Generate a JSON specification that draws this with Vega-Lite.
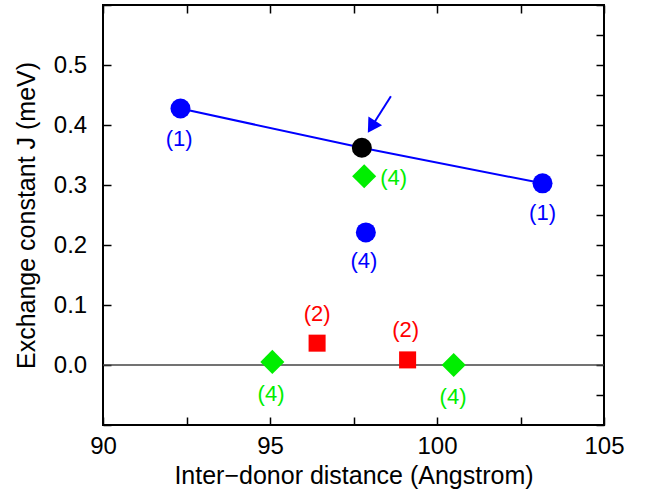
{
  "$schema": "https://vega.github.io/schema/vega-lite/v6.json",
  "autosize": {"type": "none"},
  "width": 501,
  "height": 420,
  "padding": {"left": 103, "top": 5, "right": 47, "bottom": 68},
  "background": "white",
  "config": {
    "font": "Liberation Sans",
    "view": {"stroke": "black", "strokeWidth": 2},
    "axis": {
      "grid": false,
      "domain": false,
      "tickColor": "black",
      "tickWidth": 1.5,
      "tickSize": -8,
      "labelColor": "black",
      "titleColor": "black",
      "labelFont": "Liberation Sans",
      "titleFont": "Liberation Sans",
      "labelFontSize": 24,
      "titleFontSize": 25,
      "titleFontWeight": "normal"
    }
  },
  "datasets": {
    "pts": [
      {"x": 92.32, "J": 0.4275, "set": "A"},
      {"x": 103.16, "J": 0.3028, "set": "A"},
      {"x": 97.87, "J": 0.221, "set": "A"},
      {"x": 96.41, "J": 0.0364, "set": "B"},
      {"x": 99.12, "J": 0.0085, "set": "B"},
      {"x": 97.82, "J": 0.3145, "set": "C"},
      {"x": 95.07, "J": 0.0052, "set": "C"},
      {"x": 100.5, "J": 0.0, "set": "C"},
      {"x": 97.75, "J": 0.362, "set": "D"}
    ],
    "fit": [
      {"x": 92.32, "J": 0.4275},
      {"x": 97.75, "J": 0.362},
      {"x": 103.16, "J": 0.3028}
    ],
    "labels": [
      {"x": 92.28, "J": 0.376, "text": "(1)", "set": "A"},
      {"x": 103.16, "J": 0.2534, "text": "(1)", "set": "A"},
      {"x": 97.81, "J": 0.1726, "text": "(4)", "set": "A"},
      {"x": 98.7, "J": 0.311, "text": "(4)", "set": "C"},
      {"x": 96.41, "J": 0.0853, "text": "(2)", "set": "B"},
      {"x": 99.06, "J": 0.0586, "text": "(2)", "set": "B"},
      {"x": 95.03, "J": -0.048, "text": "(4)", "set": "C"},
      {"x": 100.48, "J": -0.053, "text": "(4)", "set": "C"}
    ],
    "arrow": [
      {"x": 98.62, "J": 0.448, "x2": 98.04, "J2": 0.397}
    ]
  },
  "layer": [
    {
      "layer": [
        {
          "data": {"values": [{}]},
          "mark": {"type": "rule", "color": "#444444", "strokeWidth": 1.5},
          "encoding": {
            "y": {"datum": 0, "type": "quantitative", "scale": {"domain": [-0.1, 0.6], "nice": false, "zero": false}}
          }
        },
        {
          "data": {"name": "fit"},
          "mark": {"type": "line", "color": "#0000ff", "strokeWidth": 2},
          "encoding": {
            "x": {"field": "x", "type": "quantitative"},
            "y": {"field": "J", "type": "quantitative"}
          }
        },
        {
          "data": {"name": "arrow"},
          "mark": {"type": "rule", "color": "#0000ff", "strokeWidth": 2},
          "encoding": {
            "x": {"field": "x", "type": "quantitative"},
            "y": {"field": "J", "type": "quantitative"},
            "x2": {"field": "x2"},
            "y2": {"field": "J2"}
          }
        },
        {
          "data": {"name": "arrow"},
          "mark": {"type": "point", "shape": "triangle-up", "filled": true, "color": "#0000ff", "size": 260, "angle": 212, "opacity": 1, "strokeWidth": 0},
          "encoding": {
            "x": {"field": "x2", "type": "quantitative"},
            "y": {"field": "J2", "type": "quantitative"}
          }
        },
        {
          "data": {"name": "pts"},
          "mark": {"type": "point", "filled": true, "opacity": 1, "strokeWidth": 0},
          "encoding": {
            "x": {
              "field": "x", "type": "quantitative",
              "scale": {"domain": [90, 105], "nice": false, "zero": false},
              "axis": {
                "orient": "bottom",
                "title": "Inter\u2212donor distance (Angstrom)",
                "values": [90, 92.5, 95, 97.5, 100, 102.5, 105],
                "labelExpr": "datum.value % 5 == 0 ? datum.label : ''",
                "labelBaseline": "alphabetic",
                "labelPadding": 36,
                "labelFlush": false,
                "labelOverlap": false,
                "titleY": 58,
                "titleBaseline": "alphabetic"
              }
            },
            "y": {
              "field": "J", "type": "quantitative",
              "scale": {"domain": [-0.1, 0.6], "nice": false, "zero": false},
              "axis": {
                "orient": "left",
                "title": "Exchange constant J (meV)",
                "values": [-0.1, -0.05, 0, 0.05, 0.1, 0.15, 0.2, 0.25, 0.3, 0.35, 0.4, 0.45, 0.5, 0.55, 0.6],
                "labelExpr": "(abs(round(datum.value * 20)) % 2 == 0 && datum.value > -0.05 && datum.value < 0.55) ? format(datum.value, '.1f') : ''",
                "labelPadding": 24.3,
                "labelFlush": false,
                "labelOverlap": false,
                "titleX": -68.5,
                "titleBaseline": "alphabetic"
              }
            },
            "color": {
              "field": "set", "type": "nominal", "legend": null,
              "scale": {"domain": ["A", "B", "C", "D"], "range": ["#0000ff", "#ff0000", "#00ee00", "#000000"]}
            },
            "shape": {
              "field": "set", "type": "nominal", "legend": null,
              "scale": {"domain": ["A", "B", "C", "D"], "range": ["circle", "square", "diamond", "circle"]}
            },
            "size": {
              "field": "set", "type": "nominal", "legend": null,
              "scale": {"type": "ordinal", "domain": ["A", "B", "C", "D"], "range": [400, 290, 580, 400]}
            }
          }
        },
        {
          "data": {"name": "labels"},
          "mark": {"type": "text", "fontSize": 22, "align": "center", "baseline": "middle", "font": "Liberation Sans"},
          "encoding": {
            "x": {"field": "x", "type": "quantitative"},
            "y": {"field": "J", "type": "quantitative"},
            "text": {"field": "text"},
            "color": {"field": "set", "type": "nominal", "legend": null}
          }
        }
      ]
    },
    {
      "data": {"name": "pts"},
      "mark": {"type": "point", "opacity": 0},
      "encoding": {
        "x": {
          "field": "x", "type": "quantitative",
          "scale": {"domain": [90, 105], "nice": false, "zero": false},
          "axis": {"orient": "top", "title": null, "labels": false, "values": [90, 92.5, 95, 97.5, 100, 102.5, 105]}
        },
        "y": {
          "field": "J", "type": "quantitative",
          "scale": {"domain": [-0.1, 0.6], "nice": false, "zero": false},
          "axis": {"orient": "right", "title": null, "labels": false, "values": [-0.1, -0.05, 0, 0.05, 0.1, 0.15, 0.2, 0.25, 0.3, 0.35, 0.4, 0.45, 0.5, 0.55, 0.6]}
        }
      }
    }
  ],
  "resolve": {"scale": {"x": "independent", "y": "independent"}}
}
